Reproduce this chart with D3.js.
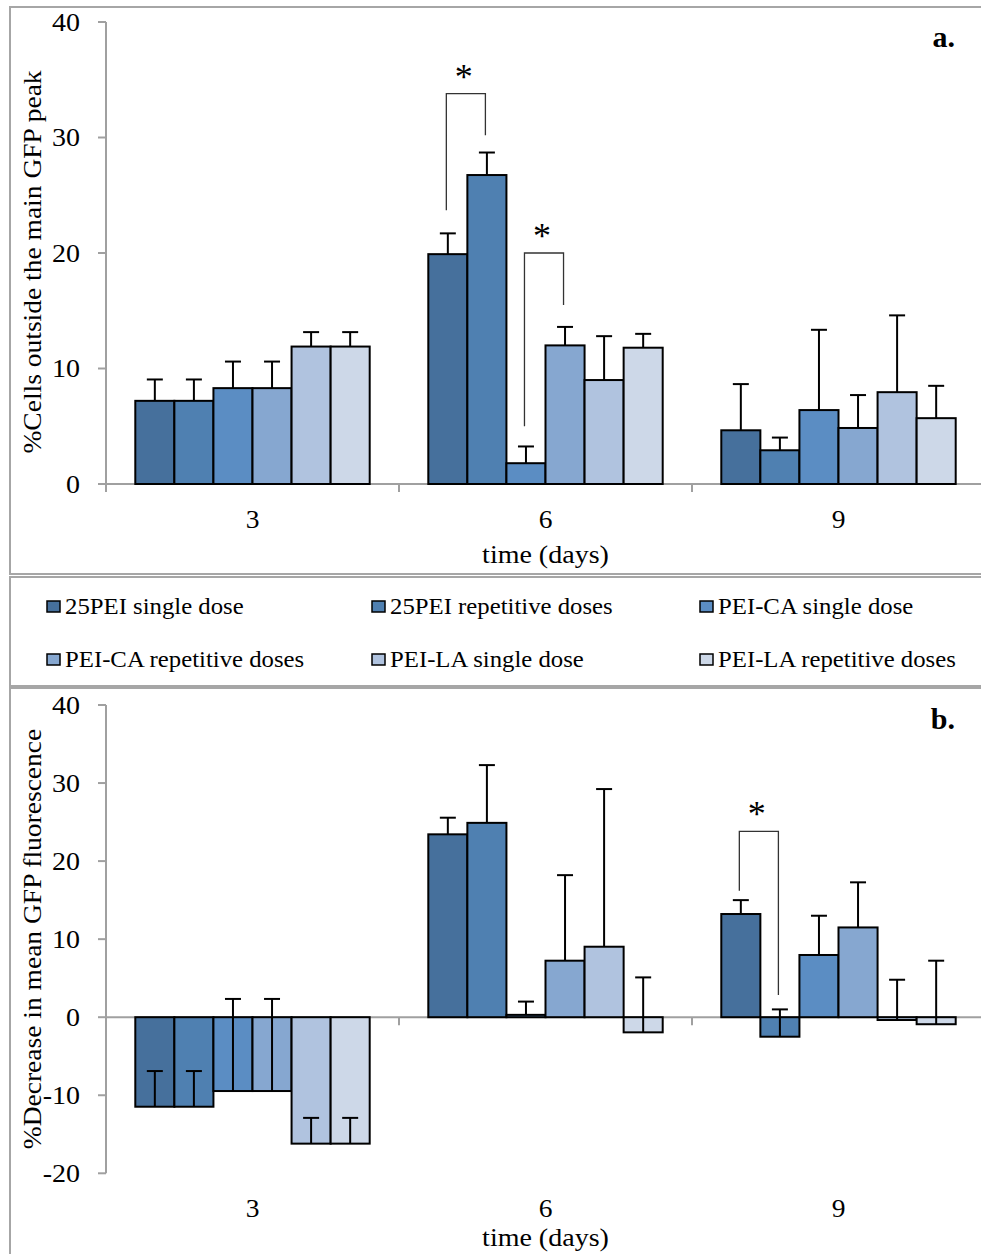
<!DOCTYPE html>
<html>
<head>
<meta charset="utf-8">
<script src="https://cdn.jsdelivr.net/npm/d3@7/dist/d3.min.js"></script>
<style>
  html, body { margin: 0; padding: 0; background: #fff; }
  svg { display: block; }
  text { font-family: "Liberation Serif", "Times New Roman", serif; fill: #000; }
</style>
</head>
<body>
<div id="chart"></div>
<script>
// Time points (days) shared by both panels
const days = ["3", "6", "9"];

// Treatment groups, in plotting order
const series = [
  "25PEI single dose",
  "25PEI repetitive doses",
  "PEI-CA single dose",
  "PEI-CA repetitive doses",
  "PEI-LA single dose",
  "PEI-LA repetitive doses"
];
const colors = ["#46709c", "#4f80b1", "#5b8dc3", "#86a7d0", "#b0c3df", "#cdd8e8"];

// Panel a: % cells outside the main GFP peak (rows = series, cols = days)
const cellsOutside = [
  [7.2, 19.9, 4.65],
  [7.2, 26.75, 2.92],
  [8.3, 1.8, 6.4],
  [8.3, 12.0, 4.85],
  [11.9, 9.0, 7.95],
  [11.9, 11.8, 5.7]
];
const cellsOutsideErr = [
  [1.85, 1.8, 4.0],
  [1.85, 1.95, 1.1],
  [2.3, 1.45, 6.95],
  [2.3, 1.6, 2.85],
  [1.25, 3.8, 6.65],
  [1.25, 1.2, 2.8]
];

// Panel b: % decrease in mean GFP fluorescence
const gfpDecrease = [
  [-11.47, 23.43, 13.22],
  [-11.47, 24.9, -2.5],
  [-9.46, 0.3, 7.97],
  [-9.46, 7.24, 11.5],
  [-16.2, 9.03, -0.36],
  [-16.2, -1.94, -0.9]
];
const gfpDecreaseErr = [
  [4.57, 2.13, 1.78],
  [4.57, 7.4, 3.5],
  [11.8, 1.7, 5.03],
  [11.8, 10.96, 5.78],
  [3.3, 20.2, 5.16],
  [3.3, 7.04, 8.14]
];

// Axis ticks
const ticksA = [0, 10, 20, 30, 40];
const ticksB = [-20, -10, 0, 10, 20, 30, 40];

// Significance brackets: pair of series within a day, bracket height and leg ends
const bracketsA = [
  { day: "6", a: 0, b: 1, top: 33.8, endA: 23.7, endB: 30.2 },
  { day: "6", a: 2, b: 3, top: 20.0, endA: 5.0, endB: 15.5 }
];
const bracketsB = [
  { day: "9", a: 0, b: 1, top: 23.8, endA: 16.2, endB: 2.85 }
];

const W = 981, H = 1254;
const svg = d3.select("#chart").append("svg").attr("width", W).attr("height", H);
svg.append("rect").attr("width", W).attr("height", H).attr("fill", "#fff");

// Widen serif glyphs horizontally by factor k
function widen(sel, k) {
  sel.each(function () {
    const len = this.getComputedTextLength();
    d3.select(this).attr("textLength", len * k).attr("lengthAdjust", "spacingAndGlyphs");
  });
  return sel;
}

// Panel frames
const frameColor = "#a6a6a6";
[[10, 7, 567], [10, 577, 109], [10, 688, 600]].forEach(([x, y, h]) => {
  svg.append("rect").attr("x", x).attr("y", y).attr("width", 1000).attr("height", h)
    .attr("fill", "none").attr("stroke", frameColor).attr("stroke-width", 2);
});

// Shared category scales
const xLeft = 106, band = 293;
const x0 = d3.scaleBand().domain(days).range([xLeft, xLeft + band * days.length]).padding(0);
const x1 = d3.scaleBand().domain(d3.range(series.length))
  .range([x0.bandwidth() * 0.1, x0.bandwidth() * 0.9]).padding(0);
const barCenter = (day, s) => x0(day) + x1(s) + x1.bandwidth() / 2;

function drawPanel(opts) {
  const { y, values, errs, ticks, brackets, title, label, labelY, catLabelY, titleCenterY, axisTitleY } = opts;
  const g = svg.append("g");
  const zeroY = y(0);
  const axisColor = "#a0a0a0";

  // y axis
  g.append("line").attr("x1", xLeft).attr("x2", xLeft)
    .attr("y1", y(ticks[ticks.length - 1])).attr("y2", y(ticks[0]))
    .attr("stroke", axisColor).attr("stroke-width", 2);
  ticks.forEach(t => {
    g.append("line").attr("x1", xLeft - 8).attr("x2", xLeft)
      .attr("y1", y(t)).attr("y2", y(t)).attr("stroke", axisColor).attr("stroke-width", 2);
  });
  widen(g.selectAll("text.ytick").data(ticks).enter().append("text")
    .attr("class", "ytick")
    .attr("x", 80).attr("y", d => y(d) + 8.5)
    .attr("text-anchor", "end").attr("font-size", 25)
    .text(d => d), 1.12);

  // x axis along zero, with category boundary ticks
  g.append("line").attr("x1", xLeft).attr("x2", x0.range()[1])
    .attr("y1", zeroY).attr("y2", zeroY)
    .attr("stroke", axisColor).attr("stroke-width", 2);
  const bounds = days.map(d => x0(d)).concat([x0.range()[1]]);
  bounds.forEach(bx => {
    g.append("line").attr("x1", bx).attr("x2", bx)
      .attr("y1", zeroY).attr("y2", zeroY + 8)
      .attr("stroke", axisColor).attr("stroke-width", 2);
  });

  // bars
  series.forEach((name, s) => {
    days.forEach((day, di) => {
      const v = values[s][di];
      g.append("rect")
        .attr("x", x0(day) + x1(s))
        .attr("width", x1.bandwidth())
        .attr("y", Math.min(y(v), zeroY))
        .attr("height", Math.abs(y(v) - zeroY))
        .attr("fill", colors[s])
        .attr("stroke", "#000").attr("stroke-width", 2);
    });
  });

  // error bars (plus direction)
  series.forEach((name, s) => {
    days.forEach((day, di) => {
      const v = values[s][di], e = errs[s][di];
      const cx = barCenter(day, s);
      g.append("line").attr("x1", cx).attr("x2", cx)
        .attr("y1", y(v)).attr("y2", y(v + e))
        .attr("stroke", "#000").attr("stroke-width", 2);
      g.append("line").attr("x1", cx - 8).attr("x2", cx + 8)
        .attr("y1", y(v + e)).attr("y2", y(v + e))
        .attr("stroke", "#000").attr("stroke-width", 2);
    });
  });

  // significance brackets
  brackets.forEach(b => {
    const xa = barCenter(b.day, b.a) - 1.5, xb = barCenter(b.day, b.b) - 1.5;
    const path = d3.path();
    path.moveTo(xa, y(b.endA));
    path.lineTo(xa, y(b.top));
    path.lineTo(xb, y(b.top));
    path.lineTo(xb, y(b.endB));
    g.append("path").attr("d", path.toString())
      .attr("fill", "none").attr("stroke", "#333").attr("stroke-width", 1.3);
    g.append("text").attr("x", (xa + xb) / 2 - 2).attr("y", y(b.top) - 5)
      .attr("text-anchor", "middle").attr("font-size", 36).text("*");
  });

  // category labels
  widen(g.selectAll("text.xtick").data(days).enter().append("text")
    .attr("class", "xtick")
    .attr("x", d => x0(d) + x0.bandwidth() / 2).attr("y", catLabelY)
    .attr("text-anchor", "middle").attr("font-size", 25)
    .text(d => d), 1.1);

  widen(g.append("text").attr("x", x0(days[1]) + x0.bandwidth() / 2).attr("y", axisTitleY)
    .attr("text-anchor", "middle").attr("font-size", 25).text("time (days)"), 1.12);

  // y axis title
  widen(g.append("text")
    .attr("transform", `translate(41,${titleCenterY}) rotate(-90)`)
    .attr("text-anchor", "middle").attr("font-size", 25).text(title), 1.1);

  // panel letter
  g.append("text").attr("x", 955).attr("y", labelY).attr("text-anchor", "end")
    .attr("font-size", 30).attr("font-weight", "bold").text(label);
}

// Panel a
const yA = d3.scaleLinear().domain([0, 40]).range([484, 22]);
drawPanel({
  y: yA, values: cellsOutside, errs: cellsOutsideErr, ticks: ticksA, brackets: bracketsA,
  title: "%Cells outside the main GFP peak", label: "a.", labelY: 47,
  catLabelY: 528, titleCenterY: 262, axisTitleY: 563
});

// Panel b
const yB = d3.scaleLinear().domain([-20, 40]).range([1173.3, 705]);
drawPanel({
  y: yB, values: gfpDecrease, errs: gfpDecreaseErr, ticks: ticksB, brackets: bracketsB,
  title: "%Decrease in mean GFP fluorescence", label: "b.", labelY: 729,
  catLabelY: 1217, titleCenterY: 939, axisTitleY: 1246
});

// Legend: two rows of three entries
const legendCols = [47, 372, 700];
const legendRows = [606, 659];
const leg = svg.append("g");
series.forEach((name, i) => {
  const lx = legendCols[i % 3], ly = legendRows[Math.floor(i / 3)];
  leg.append("rect").attr("x", lx).attr("y", ly - 5).attr("width", 13).attr("height", 11)
    .attr("fill", colors[i]).attr("stroke", "#000").attr("stroke-width", 1.5);
  widen(leg.append("text").attr("x", lx + 18).attr("y", ly + 8)
    .attr("font-size", 22.5).text(name), 1.1);
});
</script>
</body>
</html>
